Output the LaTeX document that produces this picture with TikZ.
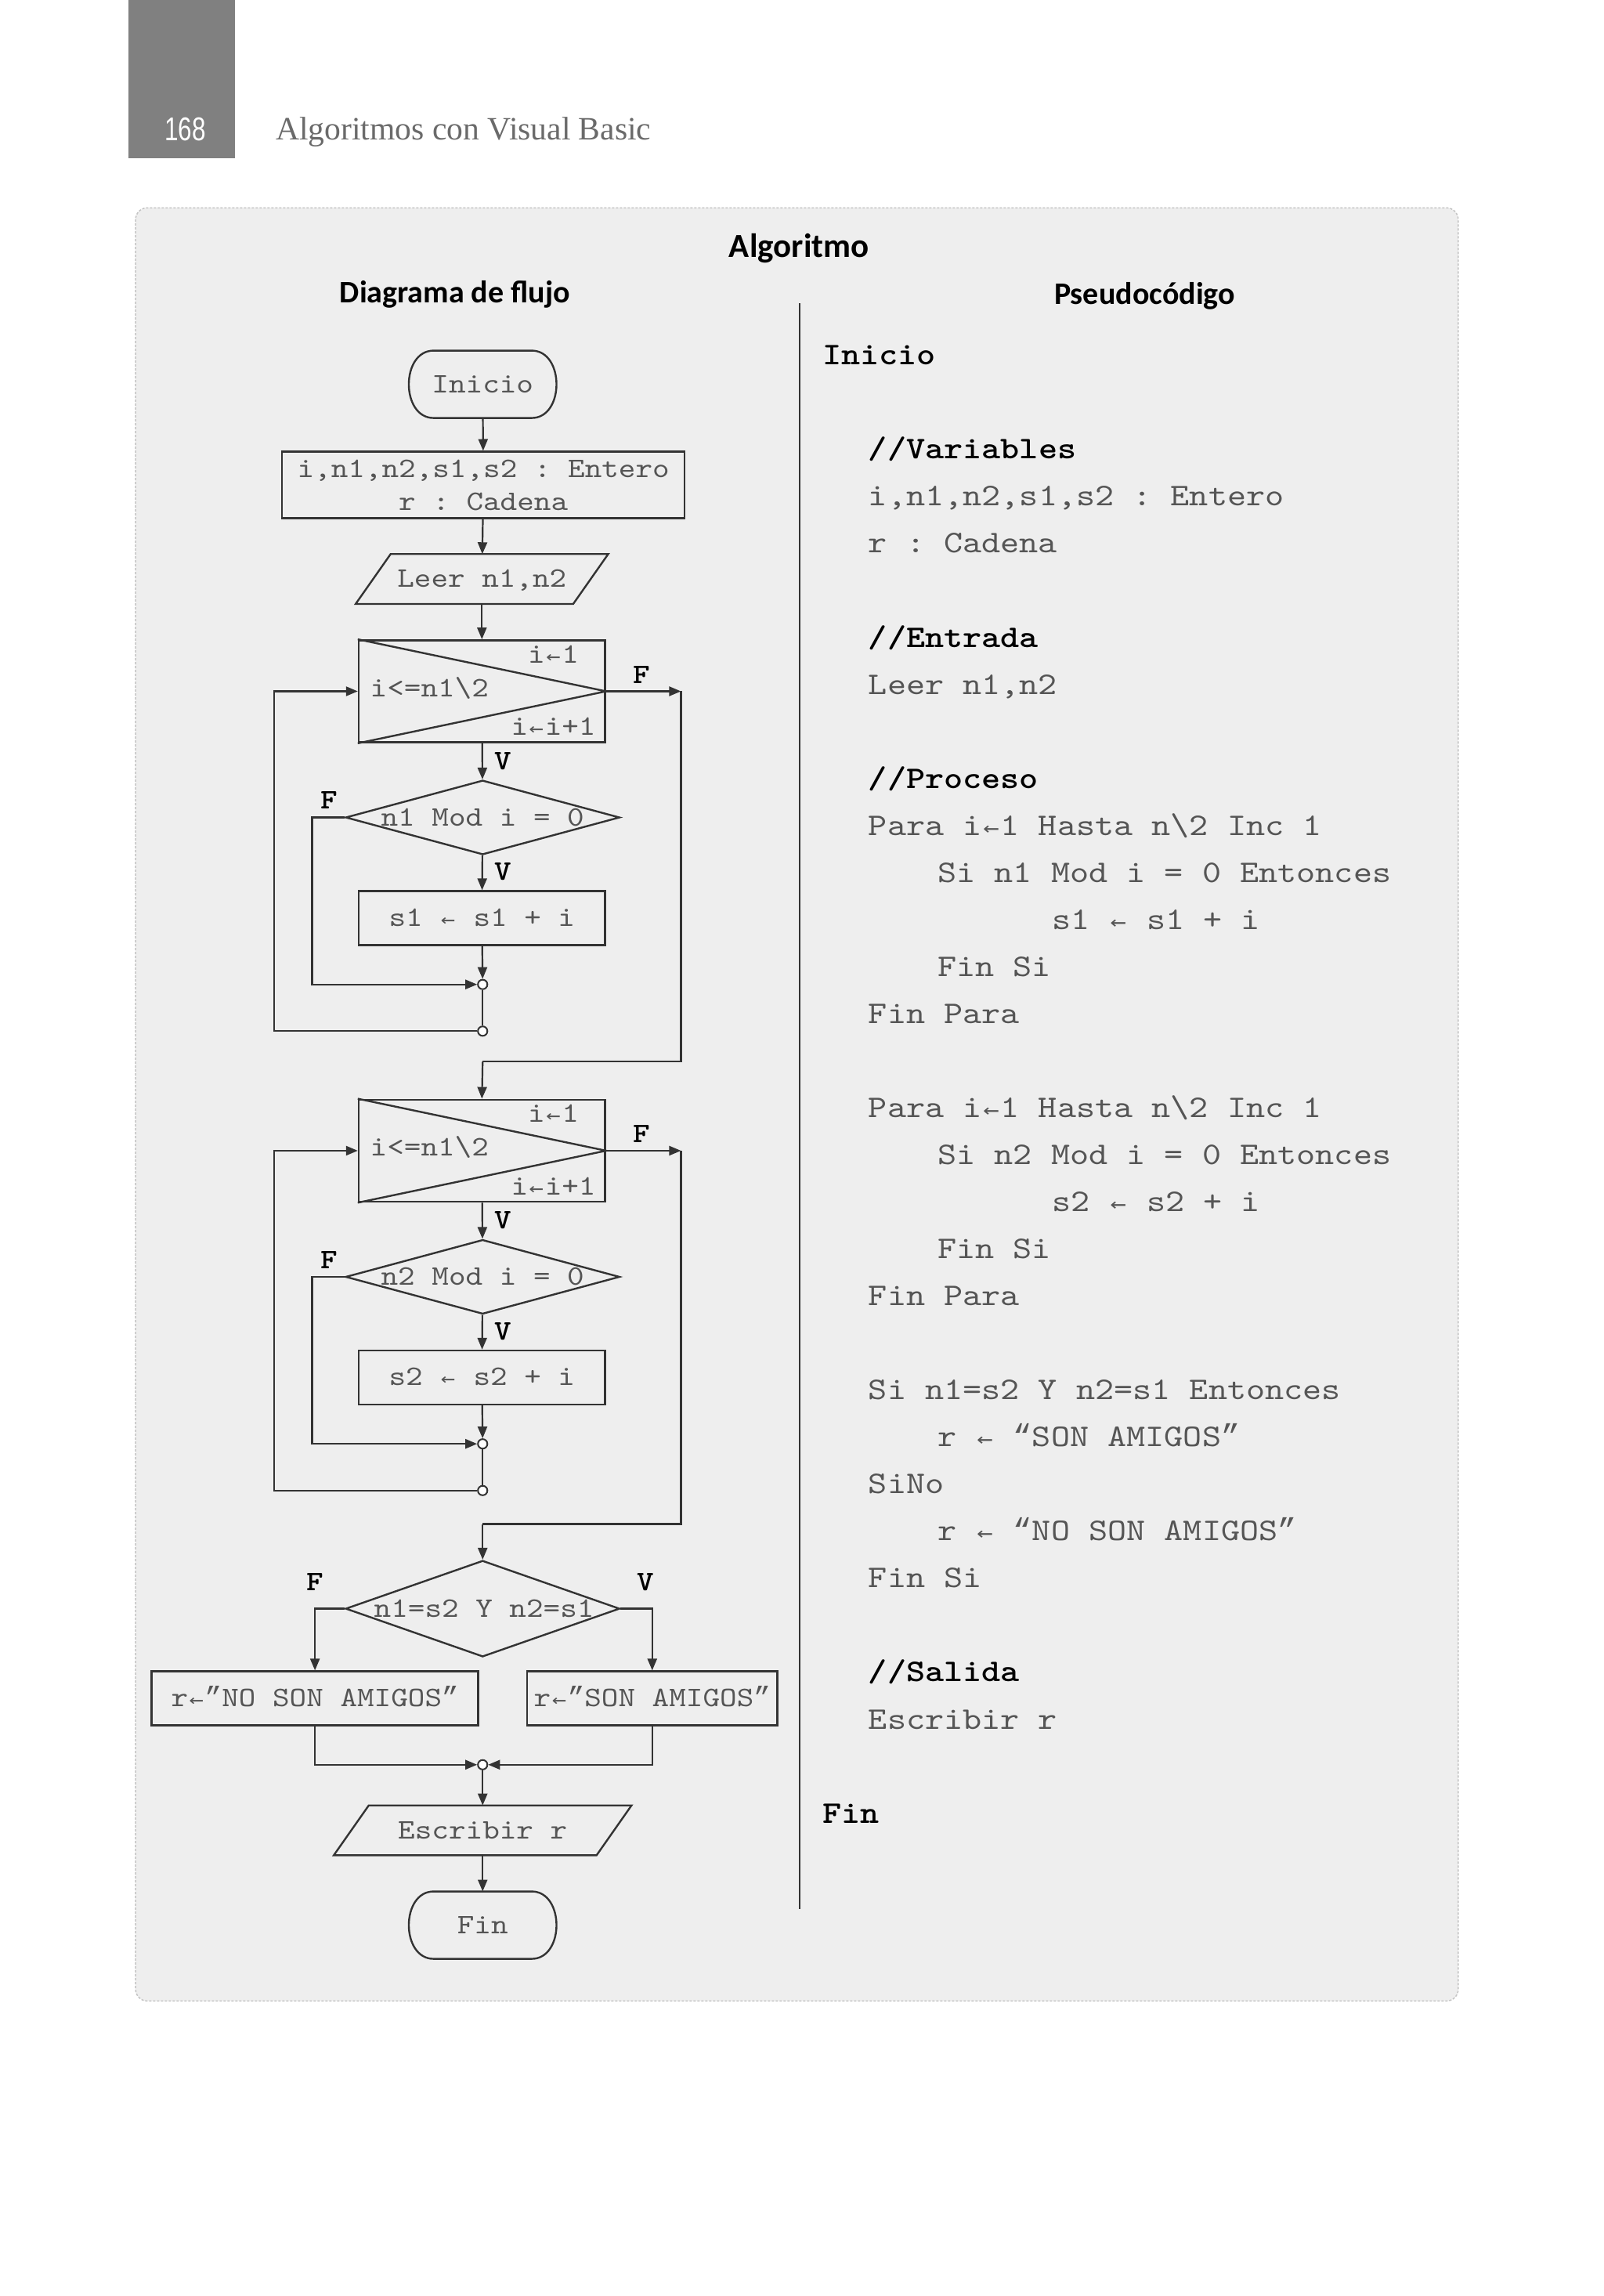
\documentclass[tikz,border=0pt]{standalone}
\usepackage{fontspec}
\setmainfont{Liberation Serif}
\setmonofont{lmmono10-regular.otf}[FakeStretch=1.143, BoldFont=lmmonolt10-bold.otf]
\newfontfamily\hfont{Carlito}
\newfontfamily\nfont{Liberation Sans}
\newfontfamily\qmono{Liberation Mono}
\newfontfamily\amono{DejaVu Sans Mono}
\usetikzlibrary{arrows.meta,shapes.geometric}
\definecolor{panelbg}{HTML}{EEEEEE}
\definecolor{panelbd}{HTML}{C4C4C4}
\definecolor{lncol}{HTML}{333333}
\definecolor{txt}{HTML}{555555}
\definecolor{hdrgray}{HTML}{808080}
\definecolor{hdrtxt}{HTML}{6A6A6A}
\newcommand\uD{1.8618pt}
\newcommand\larr{\setbox0\hbox{0}\makebox[\wd0]{\amono\scalebox{0.85}[0.7]{←}}}
\newcommand\cqt{{\qmono ”}}
\newcommand\oqt{{\qmono “}}
\tikzset{
  fcfont/.style={font=\fontsize{36}{40}\selectfont\ttfamily, text=txt},
  ghost/.style={inner sep=0pt, draw=none, fcfont, text height=21pt, text depth=0pt},
  procbox/.style={ghost, draw=lncol, line width=2.4pt, rectangle},
  dia/.style={diamond, draw=lncol, line width=2.4pt, inner sep=0pt},
  lbl/.style={inner sep=0pt, fcfont, text height=21pt, text depth=0pt},
  flag/.style={inner sep=0pt, font=\fontsize{36}{40}\selectfont\ttfamily\bfseries, text=black, text height=21pt, text depth=0pt},
  conn/.style={draw=lncol, line width=2.2pt},
  arr/.style={conn, -{Triangle[length=15pt,width=12pt]}},
  jn/.style={circle, draw=lncol, line width=2pt, fill=white, minimum size=6.5*\uD, inner sep=0pt},
  pc/.style={anchor=west, inner sep=0pt, font=\fontsize{40.2}{44}\selectfont\ttfamily, text=txt, text height=23pt, text depth=0pt},
  pcb/.style={pc, font=\fontsize{40.2}{44}\selectfont\ttfamily\bfseries, text=black},
  head/.style={inner sep=0pt, font=\fontsize{40}{44}\selectfont\hfont\bfseries, text=black, text height=25pt, text depth=0pt},
  shapeline/.style={draw=lncol, line width=2.4pt}
}
\newcommand\drawbarrel[1]{\draw[shapeline] ([xshift=17*\uD]#1.north west) -- ([xshift=-17*\uD]#1.north east) .. controls ([xshift=5.7*\uD]#1.north east) and ([xshift=5.7*\uD]#1.south east) .. ([xshift=-17*\uD]#1.south east) -- ([xshift=17*\uD]#1.south west) .. controls ([xshift=-5.7*\uD]#1.south west) and ([xshift=-5.7*\uD]#1.north west) .. ([xshift=17*\uD]#1.north west) -- cycle;}
\newcommand\drawpar[1]{\draw[shapeline] ([xshift=24*\uD]#1.north west) -- (#1.north east) -- ([xshift=-24*\uD]#1.south east) -- (#1.south west) -- cycle;}
\begin{document}
\begin{tikzpicture}[x=1.8618pt,y=-1.8618pt]
\useasboundingbox (0,0) rectangle (1100,1574.3);
\fill[white] (0,0) rectangle (1100,1574.3);
% header
\fill[hdrgray] (88,0) rectangle (161,108.5);
\node[inner sep=0pt, text=white, font=\fontsize{42}{44}\selectfont\nfont, text height=30pt, text depth=0pt] (pgnum) at (127,88.5) {\scalebox{0.75}[1]{168}};
\node[anchor=west, inner sep=0pt, text=hdrtxt, font=\fontsize{41.6}{44}\selectfont\rmfamily, text height=27pt, text depth=0pt] (booktitle) at (189,88.5) {Algoritmos con Visual Basic};
% panel
\draw[panelbd, fill=panelbg, line width=1.5pt, dash pattern=on 3pt off 2pt, rounded corners=8*\uD] (93,142.5) rectangle (1000,1372);
\node[head, font=\fontsize{43}{46}\selectfont\hfont\bfseries, text height=27pt] (alg) at (548,169) {Algoritmo};
\node[head] (dfl) at (312,201) {Diagrama de flujo};
\node[head] (psc) at (785,202) {Pseudocódigo};
\draw[lncol, line width=1.6pt] (548.5,208) -- (548.5,1309);

% ---------- flowchart ----------
\node[ghost, minimum width=101*\uD, minimum height=46*\uD] (ini) at (331,263.5) {Inicio};
\drawbarrel{ini}
\node[procbox, minimum width=276*\uD, minimum height=45.5*\uD] (decl) at (331.5,332.5) {};
\node[lbl] (decla) at (331.5,321.5) {i,n1,n2,s1,s2 : Entero};
\node[lbl] (declb) at (331.5,344.5) {r : Cadena};
\node[ghost, minimum width=173*\uD, minimum height=34*\uD] (leer) at (330.5,397) {Leer n1,n2};
\drawpar{leer}

% loop 1
\node[procbox, minimum width=169*\uD, minimum height=70*\uD] (for1) at (330.5,474) {};
\draw[shapeline] (for1.north west) -- (for1.east) -- (for1.south west);
\node[lbl] (f1a) at (379.5,449) {i\larr1};
\node[lbl] (f1b) at (294.5,472) {i<=n1\textbackslash 2};
\node[lbl] (f1c) at (379.5,498.5) {i\larr i+1};
\node[dia, minimum width=188*\uD, minimum height=51*\uD] (d1) at (331,560.5) {};
\node[lbl] (d1t) at (331,560.5) {n1 Mod i = 0};
\node[procbox, minimum width=169*\uD, minimum height=37*\uD] (s1) at (330.5,629.5) {s1 \larr{} s1 + i};
\node[jn] (c1) at (331,675) {};
\node[jn] (c2) at (331,707) {};
\node[flag] (lf1) at (440,463) {F};
\node[flag] (lv1) at (345,522) {V};
\node[flag] (lf2) at (226,549) {F};
\node[flag] (lv2) at (345,598) {V};
\coordinate (fr1) at (467,474);
\coordinate (m1) at (331,728);
\coordinate (lx1) at (188,474);
\coordinate (fx1) at (214,675);

% loop 2
\node[procbox, minimum width=169*\uD, minimum height=70*\uD] (for2) at (330.5,789) {};
\draw[shapeline] (for2.north west) -- (for2.east) -- (for2.south west);
\node[lbl] (f2a) at (379.5,764) {i\larr1};
\node[lbl] (f2b) at (294.5,787) {i<=n1\textbackslash 2};
\node[lbl] (f2c) at (379.5,813.5) {i\larr i+1};
\node[dia, minimum width=188*\uD, minimum height=51*\uD] (d2) at (331,875.5) {};
\node[lbl] (d2t) at (331,875.5) {n2 Mod i = 0};
\node[procbox, minimum width=169*\uD, minimum height=37*\uD] (s2) at (330.5,944.5) {s2 \larr{} s2 + i};
\node[jn] (c3) at (331,990) {};
\node[jn] (c4) at (331,1022) {};
\node[flag] (lf3) at (440,778) {F};
\node[flag] (lv3) at (345,837) {V};
\node[flag] (lf4) at (226,864) {F};
\node[flag] (lv4) at (345,913) {V};
\coordinate (fr2) at (467,789);
\coordinate (m2) at (331,1045);
\coordinate (lx2) at (188,789);
\coordinate (fx2) at (214,990);

% final decision
\node[dia, minimum width=188*\uD, minimum height=66*\uD] (d3) at (331,1103) {};
\node[lbl] (d3t) at (332,1103) {n1=s2 Y n2=s1};
\node[flag] (lf5) at (216,1085) {F};
\node[flag] (lv5) at (443,1085) {V};
\node[procbox, minimum width=224*\uD, minimum height=37*\uD] (no) at (216,1164.5) {r\larr\cqt NO SON AMIGOS\cqt};
\node[procbox, minimum width=171.5*\uD, minimum height=37*\uD] (son) at (447.3,1164.5) {r\larr\cqt SON AMIGOS\cqt};
\node[jn] (c5) at (331,1210) {};
\node[ghost, minimum width=204*\uD, minimum height=34*\uD] (esc) at (331,1255) {Escribir r};
\drawpar{esc}
\node[ghost, minimum width=101*\uD, minimum height=46*\uD] (fin) at (331,1320) {Fin};
\drawbarrel{fin}

% connectors
\draw[arr] (ini) -- (decl);
\draw[arr] (decl) -- (leer);
\draw[arr] (leer) -- (for1);
\draw[arr] (for1.east) -- (fr1);
\draw[conn] (fr1) |- (m1);
\draw[arr] (m1) -- (for2.north);
\draw[arr] (for1) -- (d1);
\draw[arr] (d1) -- (s1);
\draw[arr] (s1) -- (c1);
\draw[arr] (d1.west) -| (fx1) -- (c1);
\draw[conn] (c1) -- (c2);
\draw[arr] (c2) -| (lx1) -- (for1.west);

\draw[arr] (for2.east) -- (fr2);
\draw[conn] (fr2) |- (m2);
\draw[arr] (m2) -- (d3.north);
\draw[arr] (for2) -- (d2);
\draw[arr] (d2) -- (s2);
\draw[arr] (s2) -- (c3);
\draw[arr] (d2.west) -| (fx2) -- (c3);
\draw[conn] (c3) -- (c4);
\draw[arr] (c4) -| (lx2) -- (for2.west);

\draw[arr] (d3.west) -| (no.north);
\draw[arr] (d3.east) -| (son.north);
\draw[arr] (no.south) |- (c5);
\draw[arr] (son.south) |- (c5);
\draw[arr] (c5) -- (esc);
\draw[arr] (esc) -- (fin);

% ---------- pseudocode ----------
\node[pcb] (p0) at (564,244) {Inicio};
\node[pcb] (p2) at (595.5,308.5) {//Variables};
\node[pc] (p3) at (595.5,340.75) {i,n1,n2,s1,s2 : Entero};
\node[pc] (p4) at (595.5,373) {r : Cadena};
\node[pcb] (p6) at (595.5,437.5) {//Entrada};
\node[pc] (p7) at (595.5,469.75) {Leer n1,n2};
\node[pcb] (p9) at (595.5,534.25) {//Proceso};
\node[pc] (p10) at (595.5,566.5) {Para i\larr1 Hasta n\textbackslash 2 Inc 1};
\node[pc] (p11) at (643,598.75) {Si n1 Mod i = 0 Entonces};
\node[pc] (p12) at (721.5,631) {s1 \larr{} s1 + i};
\node[pc] (p13) at (643,663.25) {Fin Si};
\node[pc] (p14) at (595.5,695.5) {Fin Para};
\node[pc] (p16) at (595.5,760) {Para i\larr1 Hasta n\textbackslash 2 Inc 1};
\node[pc] (p17) at (643,792.25) {Si n2 Mod i = 0 Entonces};
\node[pc] (p18) at (721.5,824.5) {s2 \larr{} s2 + i};
\node[pc] (p19) at (643,856.75) {Fin Si};
\node[pc] (p20) at (595.5,889) {Fin Para};
\node[pc] (p22) at (595.5,953.5) {Si n1=s2 Y n2=s1 Entonces};
\node[pc] (p23) at (643,985.75) {r \larr{} \oqt SON AMIGOS\cqt};
\node[pc] (p24) at (595.5,1018) {SiNo};
\node[pc] (p25) at (643,1050.25) {r \larr{} \oqt NO SON AMIGOS\cqt};
\node[pc] (p26) at (595.5,1082.5) {Fin Si};
\node[pcb] (p28) at (595.5,1147) {//Salida};
\node[pc] (p29) at (595.5,1179.25) {Escribir r};
\node[pcb] (p31) at (564,1243.75) {Fin};
\end{tikzpicture}
\end{document}
